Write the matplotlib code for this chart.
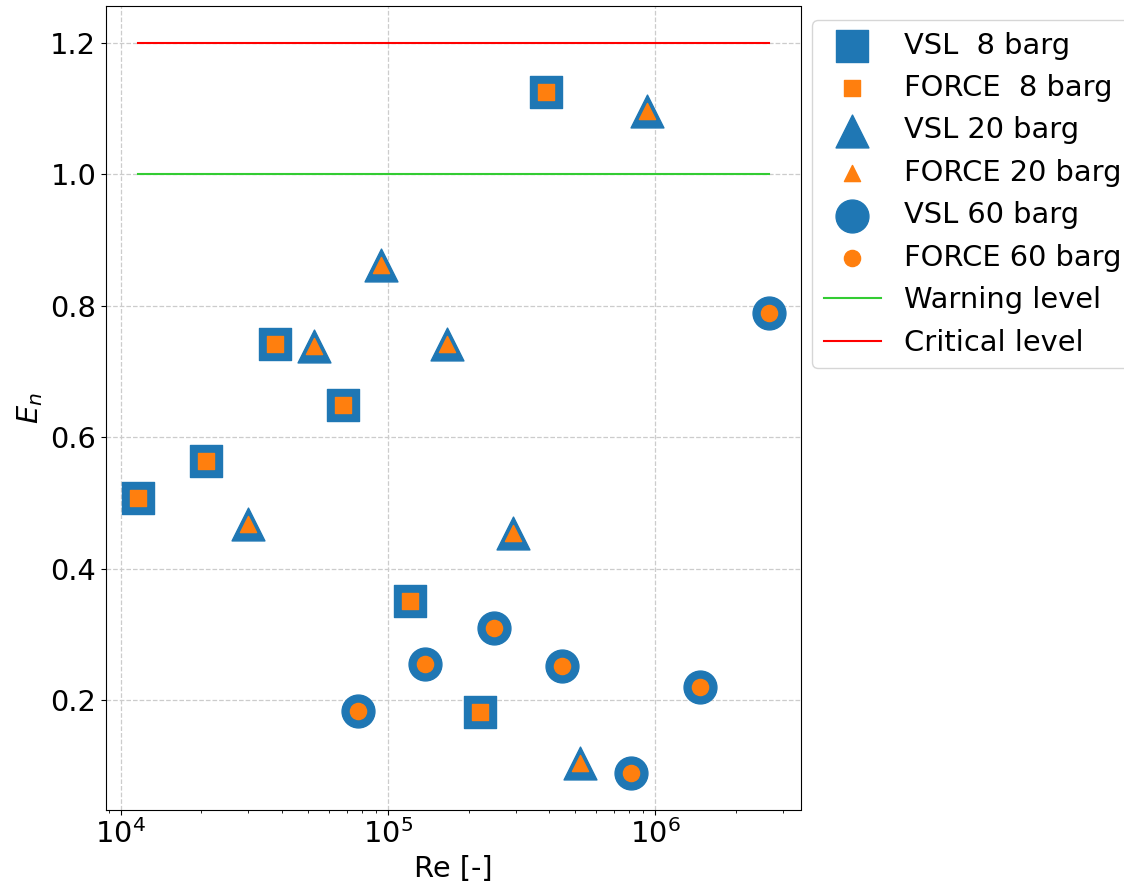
import matplotlib
matplotlib.use("Agg")
import matplotlib.pyplot as plt
import numpy as np

# Data
re_8 = [11550, 20800, 37600, 67600, 121000, 220000, 391000]
en_8 = [0.507, 0.563, 0.742, 0.649, 0.351, 0.182, 1.125]

re_20 = [29800, 52700, 94000, 165500, 294000, 523000, 928000]
en_20 = [0.468, 0.738, 0.861, 0.741, 0.454, 0.104, 1.096]

re_60 = [77000, 138000, 248000, 449000, 811000, 1470000, 2660000]
en_60 = [0.184, 0.255, 0.310, 0.252, 0.089, 0.220, 0.789]

warning_level = 1.0
critical_level = 1.2

labels_vsl = ["VSL  8 barg", "VSL 20 barg", "VSL 60 barg"]
labels_force = ["FORCE  8 barg", "FORCE 20 barg", "FORCE 60 barg"]

plt.rcParams['font.size'] = 20.8

fig = plt.figure(figsize=(11.24, 8.86), dpi=100)
ax = fig.add_axes([106/1124, 1 - 809.5/886, (800.5 - 106)/1124, (809.5 - 6)/886])

big = 560
small = 135
ax.scatter(re_8, en_8, marker='s', s=big, color='#1f77b4', label=labels_vsl[0], zorder=3)
ax.scatter(re_8, en_8, marker='s', s=small, color='#ff7f0e', label=labels_force[0], zorder=4)
ax.scatter(re_20, en_20, marker='^', s=big, color='#1f77b4', label=labels_vsl[1], zorder=3)
ax.scatter(re_20, en_20, marker='^', s=small, color='#ff7f0e', label=labels_force[1], zorder=4)
ax.scatter(re_60, en_60, marker='o', s=big, color='#1f77b4', label=labels_vsl[2], zorder=3)
ax.scatter(re_60, en_60, marker='o', s=small, color='#ff7f0e', label=labels_force[2], zorder=4)

all_re = re_8 + re_20 + re_60
xmin, xmax = min(all_re), max(all_re)
ax.plot([xmin, xmax], [warning_level, warning_level], color='#33cc33', lw=1.5, label='Warning level', zorder=2)
ax.plot([xmin, xmax], [critical_level, critical_level], color='red', lw=1.5, label='Critical level', zorder=2)

ax.set_xscale('log')
ax.set_xlabel('Re [-]')
ax.set_ylabel('$E_n$')
ax.set_yticks([0.2, 0.4, 0.6, 0.8, 1.0, 1.2])
ax.grid(True, which='major', linestyle='--', color='#cccccc', linewidth=0.9)
ax.set_axisbelow(True)

fig.legend(loc='upper left', bbox_to_anchor=(812/1124, 1 - 20/886),
           bbox_transform=fig.transFigure, borderaxespad=0)

fig.savefig('out.png', dpi=100)
